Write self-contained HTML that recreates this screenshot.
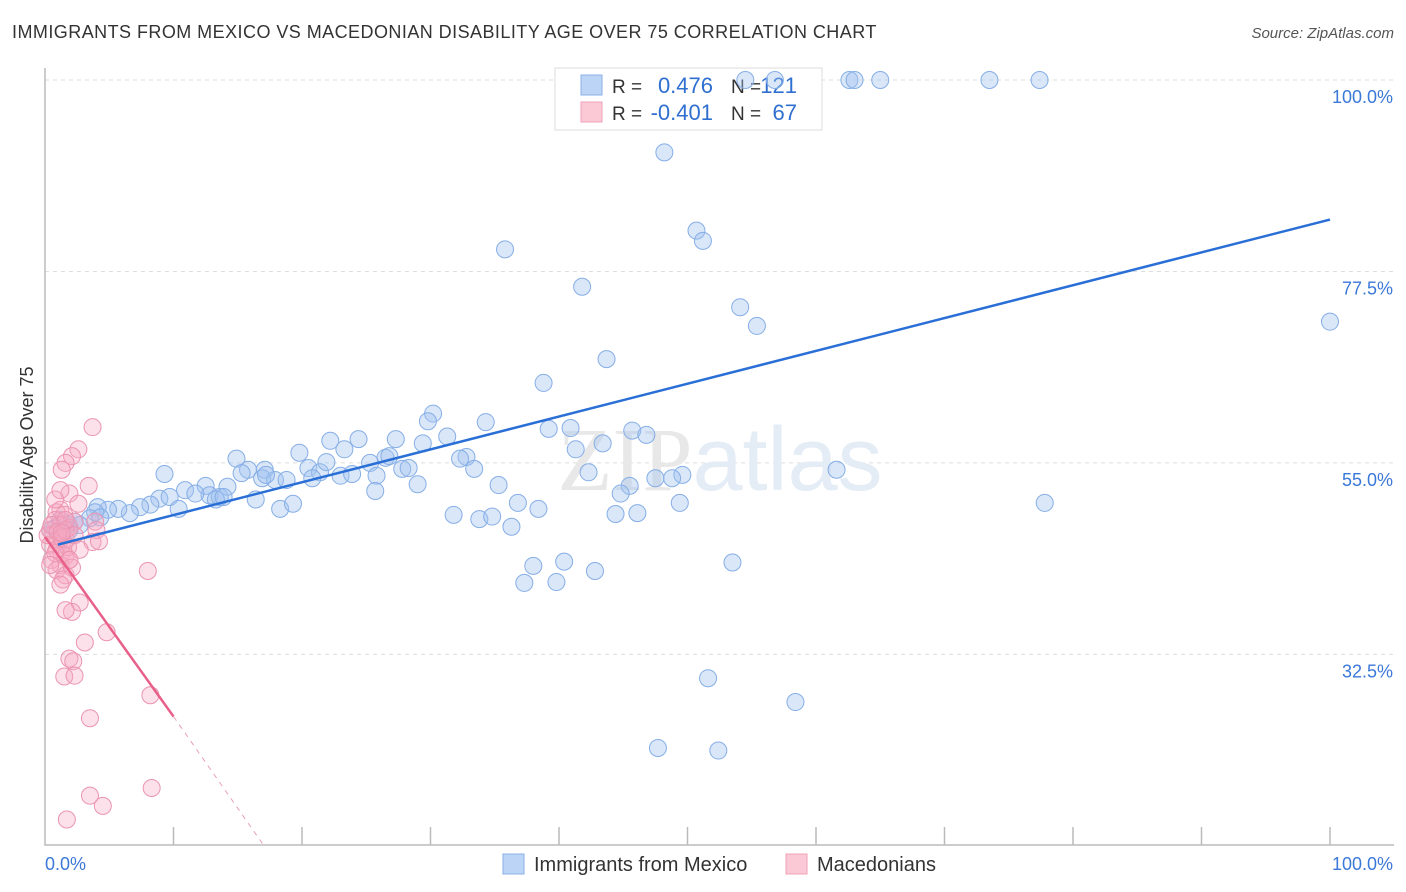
<!DOCTYPE html>
<html><head><meta charset="utf-8">
<style>
body{margin:0;background:#fff;font-family:"Liberation Sans",sans-serif;}
#wrap{position:relative;width:1406px;height:892px;overflow:hidden;}
.t{position:absolute;white-space:nowrap;}
</style></head>
<body>
<div id="wrap">
<div class="t" style="left:12px;top:22px;font-size:18px;letter-spacing:0.45px;color:#333;">IMMIGRANTS FROM MEXICO VS MACEDONIAN DISABILITY AGE OVER 75 CORRELATION CHART</div>
<div class="t" style="right:12px;top:25px;font-size:15px;color:#555;font-style:italic;">Source: ZipAtlas.com</div>
<svg id="svg" width="1406" height="892" style="position:absolute;left:0;top:0"></svg>
</div>
<script>
const xCats=[0,100];
const yTicks=[32.5,55.0,77.5,100.0];
const blueX=[62.6,63.0,65.0,73.5,77.4,54.5,56.8,48.2,50.7,51.2,35.8,41.8,54.1,55.4,100,43.7,38.8,30.2,29.8,34.3,39.2,40.9,45.7,46.8,22.2,23.3,24.4,27.3,29.4,31.3,19.8,14.9,41.3,43.4,32.8,32.3,33.4,61.6,49.6,47.5,48.8,42.3,45.5,44.8,35.3,36.8,38.4,31.8,33.8,34.8,36.3,44.4,46.1,49.4,77.8,38.0,40.4,42.8,53.5,37.3,39.8,51.6,58.4,47.7,52.4,9.3,10.9,12.5,12.8,13.6,14.2,16.4,15.8,17.1,16.9,17.9,18.8,18.3,19.3,20.5,21.4,20.8,21.9,23.0,23.9,25.3,25.8,26.5,26.8,27.8,28.3,29.0,25.7,8.9,8.2,7.4,6.6,5.7,4.9,4.1,3.9,3.5,4.3,2.3,1.8,1.3,0.8,0.4,2.7,1.2,1.9,9.7,10.4,11.7,13.3,13.9,15.3,17.2];
const blueY=[100,100,100,100,100,100,100,91.5,82.3,81.1,80.1,75.7,73.3,71.1,71.6,67.2,64.4,60.8,59.9,59.8,59.0,59.1,58.8,58.3,57.6,56.6,57.8,57.8,57.3,58.1,56.2,55.5,56.6,57.3,55.7,55.5,54.3,54.2,53.6,53.2,53.2,53.9,52.3,51.4,52.4,50.3,49.6,48.9,48.4,48.7,47.5,49.0,49.1,50.3,50.3,42.9,43.4,42.3,43.3,40.9,41.0,29.7,26.9,21.5,21.2,53.7,51.8,52.3,51.2,51.0,52.2,50.7,54.2,54.2,53.2,53.0,53.0,49.6,50.2,54.4,53.9,53.2,55.1,53.5,53.7,55.0,53.5,55.6,55.8,54.3,54.4,52.5,51.7,50.8,50.1,49.8,49.1,49.6,49.5,49.8,49.2,48.5,48.6,48.1,47.8,47.1,47.4,47.1,47.7,48.3,47.1,51.0,49.6,51.4,50.7,51.0,53.8,53.6];
const pinkX=[3.7,2.6,2.1,1.6,1.3,3.4,1.9,2.6,1.2,0.9,1.5,0.8,1.2,0.4,0.6,1.0,1.3,1.6,1.9,2.3,3.9,4.0,3.7,4.2,0.9,1.3,1.6,0.5,1.2,0.9,1.6,8.0,2.7,2.1,1.6,4.8,3.1,1.9,2.2,1.5,2.3,8.2,3.5,3.5,4.5,8.3,1.7,0.4,0.2,0.5,1.0,1.3,1.8,1.9,2.1,1.4,1.2,0.8,0.4,1.6,2.3,2.7,1.6,0.8,1.2,1.9,1.3];
const pinkY=[59.2,56.6,55.8,55.0,54.2,52.3,51.4,50.2,49.5,49.2,48.9,48.3,47.7,47.1,46.5,46.0,45.4,46.0,47.4,48.1,48.1,47.1,45.7,45.8,44.8,44.4,44.1,43.6,43.0,42.4,41.8,42.3,38.6,37.5,37.7,35.1,33.9,32.0,31.7,29.9,30.0,27.7,25.0,15.9,14.7,16.8,13.1,45.4,46.5,47.7,46.9,46.2,45.1,43.6,42.7,41.3,40.7,44.4,43.0,47.1,46.5,44.8,48.3,50.7,51.8,43.6,46.8];
const blueFit=[1,45.4,100,83.6];
const pinkFit=[0,46.3,10,25.2,17,10.1];
const L=45,R=1330,T=80,B=845;
const sx=v=>L+(R-L)*v/100;
const sy=v=>T+(100-v)*(B-T)/(100-10.1);
const svg=document.getElementById('svg');
const NS='http://www.w3.org/2000/svg';
function mk(t,a,p){const e=document.createElementNS(NS,t);for(const k in a)e.setAttribute(k,a[k]);(p||svg).appendChild(e);return e;}
yTicks.forEach(v=>{
  const g=mk('line',{x1:L,x2:1394,y1:sy(v),y2:sy(v),stroke:'#ddd','stroke-dasharray':'4,4'});
  
  
  const t=mk('text',{x:1393,y:sy(v)+23,'text-anchor':'end','font-size':18,fill:'#3b78d8','font-family':'Liberation Sans, sans-serif'});
  t.textContent=v.toFixed(1)+'%';
  
  
});
const ax=mk('path',{d:`M${L} 68 V${B} H1394`,stroke:'#bbb',fill:'none','stroke-width':1.5});


for(let i=1;i<=10;i++){const tk=mk('line',{x1:sx(i*10),x2:sx(i*10),y1:B-18,y2:B,stroke:'#bbb','stroke-width':1.5});

}
xCats.forEach((v,i)=>{const t=mk('text',{x:i?1393:45,y:870,'text-anchor':i?'end':'start','font-size':18,fill:'#3b78d8','font-family':'Liberation Sans, sans-serif'});t.textContent=v.toFixed(1)+'%';

});
const yt=mk('text',{transform:'translate(33,455) rotate(-90)','text-anchor':'middle','font-size':18,fill:'#333','font-family':'Liberation Sans, sans-serif'});
yt.textContent='Disability Age Over 75';


const wm=mk('text',{x:720,y:490,'text-anchor':'middle','font-size':90,fill:'#e4ecf6','font-family':'Liberation Sans, sans-serif'});
wm.innerHTML='<tspan fill="#e8e8e8" font-family="Liberation Serif, serif">ZIP</tspan>atlas';


// legend box (drawn beneath points)
const lg=mk('g',{});


mk('rect',{x:555,y:68,width:267,height:62,fill:'#fff',stroke:'#ddd'},lg);
mk('rect',{x:581,y:75,width:21,height:20,fill:'#bcd4f5',stroke:'#8ab0e8'},lg);
mk('rect',{x:581,y:102,width:21,height:20,fill:'#fbc8d6',stroke:'#efa0b8'},lg);
const rows=[['R = ','0.476','121',93],['R = ','-0.401','67',120]];
rows.forEach(r=>{
 const a=mk('text',{x:612,y:r[3],'font-size':19,fill:'#333','font-family':'Liberation Sans, sans-serif'},lg);a.textContent=r[0];
 const b=mk('text',{x:713,y:r[3],'text-anchor':'end','font-size':22,fill:'#2f6fd0','font-family':'Liberation Sans, sans-serif'},lg);b.textContent=r[1];
 const c=mk('text',{x:731,y:r[3],'font-size':19,fill:'#333','font-family':'Liberation Sans, sans-serif'},lg);c.textContent='N =';
 const d=mk('text',{x:797,y:r[3],'text-anchor':'end','font-size':22,fill:'#2f6fd0','font-family':'Liberation Sans, sans-serif'},lg);d.textContent=r[2];
});
blueX.forEach((x,i)=>{const c=mk('circle',{cx:sx(x),cy:sy(blueY[i]),r:8.5,fill:'rgba(160,195,240,0.4)',stroke:'#86aee6','stroke-width':1});

});
pinkX.forEach((x,i)=>{const c=mk('circle',{cx:sx(x),cy:sy(pinkY[i]),r:8.5,fill:'rgba(245,170,195,0.35)',stroke:'#eb94b0','stroke-width':1});

});
const bl=mk('line',{x1:sx(blueFit[0]),y1:sy(blueFit[1]),x2:sx(blueFit[2]),y2:sy(blueFit[3]),stroke:'#2a6fd6','stroke-width':2.5});


const pl=mk('line',{x1:sx(pinkFit[0]),y1:sy(pinkFit[1]),x2:sx(pinkFit[2]),y2:sy(pinkFit[3]),stroke:'#e8608a','stroke-width':2.5});


const pd=mk('line',{x1:sx(pinkFit[2]),y1:sy(pinkFit[3]),x2:sx(pinkFit[4]),y2:sy(pinkFit[5]),stroke:'#e8a0b5','stroke-width':1,'stroke-dasharray':'5,5'});


const bl2=mk('g',{});


mk('rect',{x:503,y:854,width:21,height:20,fill:'#bcd4f5',stroke:'#8ab0e8'},bl2);
const e1=mk('text',{x:534,y:871,'font-size':20,fill:'#333','font-family':'Liberation Sans, sans-serif'},bl2);e1.textContent='Immigrants from Mexico';
mk('rect',{x:786,y:854,width:21,height:20,fill:'#fbc8d6',stroke:'#efa0b8'},bl2);
const e2=mk('text',{x:817,y:871,'font-size':20,fill:'#333','font-family':'Liberation Sans, sans-serif'},bl2);e2.textContent='Macedonians';
</script>
</body></html>
